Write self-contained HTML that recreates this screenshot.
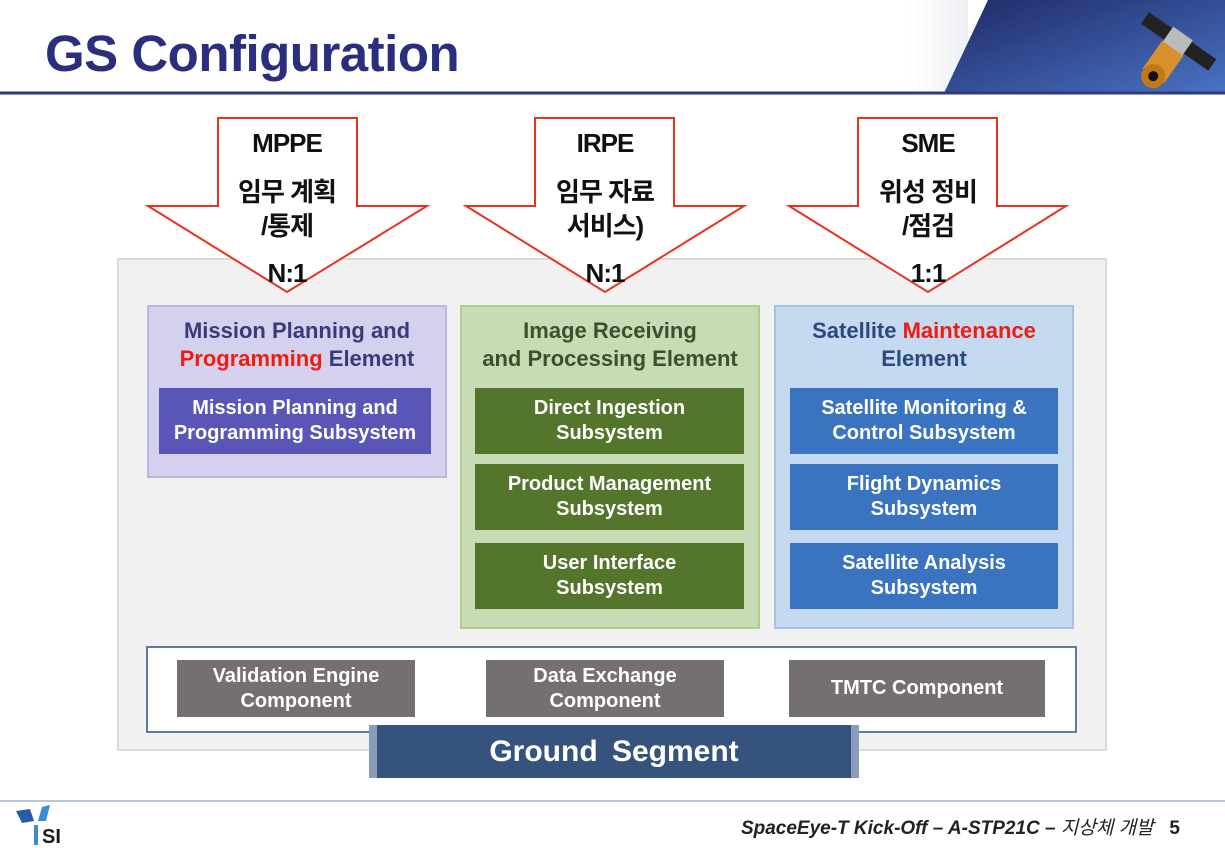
<!DOCTYPE html>
<html><head><meta charset="utf-8"><style>
*{margin:0;padding:0;box-sizing:border-box}
body{width:1225px;height:848px;background:#fff;position:relative;overflow:hidden;font-family:"Liberation Sans","Noto Sans CJK KR",sans-serif;font-weight:bold}
.a{position:absolute}
.c{display:flex;align-items:center;justify-content:center;text-align:center}
.sub{color:#fff;font-size:20px;line-height:25px}
.el{font-size:22px;line-height:28px;text-align:center}
.ar{position:absolute;width:140px;text-align:center;color:#111;font-size:26px;font-family:"Liberation Sans Narrow","Liberation Sans","Noto Sans CJK KR",sans-serif;letter-spacing:-1px}
</style></head><body>
<svg class="a" style="left:0;top:0" width="1225" height="100">
<defs><linearGradient id="g" x1="0" y1="0" x2="1" y2="1"><stop offset="0" stop-color="#1e2a66"/><stop offset="1" stop-color="#4a72c4"/></linearGradient>
<linearGradient id="w" x1="0" x2="1"><stop offset="0" stop-color="#fff"/><stop offset="1" stop-color="#eef0f4"/></linearGradient></defs>
<rect x="908" y="0" width="60" height="93" fill="url(#w)"/>
<polygon points="988,0 1225,0 1225,93 944,93" fill="url(#g)"/>
<line x1="0" y1="93" x2="1225" y2="93" stroke="#2e3c78" stroke-width="3"/>
<g transform="translate(1175,45) rotate(35)">
<rect x="-40" y="-12" width="30" height="14" fill="#222"/><rect x="12" y="-12" width="30" height="14" fill="#222"/>
<rect x="-12" y="-14" width="24" height="20" fill="#bbb"/>
<rect x="-13" y="4" width="26" height="34" fill="#d8902a"/>
<circle cx="0" cy="38" r="12" fill="#c07818"/><circle cx="0" cy="38" r="5" fill="#111"/></g>
</svg>
<div class="a" style="left:45px;top:24px;font-size:51px;color:#2b2e7e;letter-spacing:-0.5px">GS Configuration</div>

<div class="a" style="left:117px;top:258px;width:990px;height:493px;background:#f1f1f1;border:2px solid #dadada"></div>

<svg class="a" style="left:0;top:0" width="1225" height="300">
<polygon points="218,118 357,118 357,206 427,206 287,292 148,206 218,206" fill="#fff" stroke="#e8321e" stroke-width="2"/>
<polygon points="535,118 674,118 674,206 744,206 605,292 466,206 535,206" fill="#fff" stroke="#e8321e" stroke-width="2"/>
<polygon points="858,118 997,118 997,206 1066,206 928,292 789,206 858,206" fill="#fff" stroke="#e8321e" stroke-width="2"/>
</svg>
<div class="ar" style="left:217px;top:128px">MPPE</div>
<div class="ar" style="left:217px;top:175px;line-height:34px">임무 계획<br>/통제</div>
<div class="ar" style="left:217px;top:258px">N:1</div>
<div class="ar" style="left:535px;top:128px">IRPE</div>
<div class="ar" style="left:535px;top:175px;line-height:34px">임무 자료<br>서비스)</div>
<div class="ar" style="left:535px;top:258px">N:1</div>
<div class="ar" style="left:858px;top:128px">SME</div>
<div class="ar" style="left:858px;top:175px;line-height:34px">위성 정비<br>/점검</div>
<div class="ar" style="left:858px;top:258px">1:1</div>

<div class="a" style="left:147px;top:305px;width:300px;height:173px;background:#d4d1ee;border:2px solid #bab6e2"></div>
<div class="a el" style="left:147px;top:317px;width:300px;color:#3a3a7a">Mission Planning and<br><span style="color:#f01c10">Programming</span> Element</div>
<div class="a c sub" style="left:159px;top:388px;width:272px;height:66px;background:#5a56b8">Mission Planning and<br>Programming Subsystem</div>

<div class="a" style="left:460px;top:305px;width:300px;height:324px;background:#c7dcb4;border:2px solid #a9d18e"></div>
<div class="a el" style="left:460px;top:317px;width:300px;color:#3e4f2e">Image Receiving<br>and Processing Element</div>
<div class="a c sub" style="left:475px;top:388px;width:269px;height:66px;background:#53762c">Direct Ingestion<br>Subsystem</div>
<div class="a c sub" style="left:475px;top:464px;width:269px;height:66px;background:#53762c">Product Management<br>Subsystem</div>
<div class="a c sub" style="left:475px;top:543px;width:269px;height:66px;background:#53762c">User Interface<br>Subsystem</div>

<div class="a" style="left:774px;top:305px;width:300px;height:324px;background:#c5d9f1;border:2px solid #a2c4e8"></div>
<div class="a el" style="left:774px;top:317px;width:300px;color:#2a4a7c">Satellite <span style="color:#f01c10">Maintenance</span><br>Element</div>
<div class="a c sub" style="left:790px;top:388px;width:268px;height:66px;background:#3a74c0">Satellite Monitoring &amp;<br>Control Subsystem</div>
<div class="a c sub" style="left:790px;top:464px;width:268px;height:66px;background:#3a74c0">Flight Dynamics<br>Subsystem</div>
<div class="a c sub" style="left:790px;top:543px;width:268px;height:66px;background:#3a74c0">Satellite Analysis<br>Subsystem</div>

<div class="a" style="left:146px;top:646px;width:931px;height:87px;background:#fff;border:2px solid #5a7aa8"></div>
<div class="a c sub" style="left:177px;top:660px;width:238px;height:57px;background:#757070">Validation Engine<br>Component</div>
<div class="a c sub" style="left:486px;top:660px;width:238px;height:57px;background:#757070">Data Exchange<br>Component</div>
<div class="a c sub" style="left:789px;top:660px;width:256px;height:57px;background:#757070">TMTC Component</div>

<div class="a" style="left:369px;top:725px;width:490px;height:53px;background:#8a9cbc"></div>
<div class="a c" style="left:377px;top:725px;width:474px;height:53px;background:#36537d;color:#fff;font-size:30px;word-spacing:6px">Ground Segment</div>

<div class="a" style="left:0;top:800px;width:1225px;height:2px;background:#b8c4d8"></div>
<svg class="a" style="left:12px;top:805px" width="70" height="42">
<polygon points="4,6 18,4 22,16 10,18" fill="#2a5aa8"/><polygon points="30,2 38,0 34,16 26,16" fill="#3a8ad8"/>
<rect x="22" y="20" width="4" height="20" fill="#3a8ad8"/>
<text x="30" y="38" font-family="Liberation Sans" font-weight="bold" font-size="20" fill="#1a1a1a">SI</text></svg>
<div class="a" style="right:45px;top:813px;font-size:19px;font-style:italic;color:#222;white-space:nowrap">SpaceEye-T Kick-Off – A-STP21C – <span style="font-weight:normal">지상체 개발</span> &nbsp; <span style="font-style:normal">5</span></div>
</body></html>
